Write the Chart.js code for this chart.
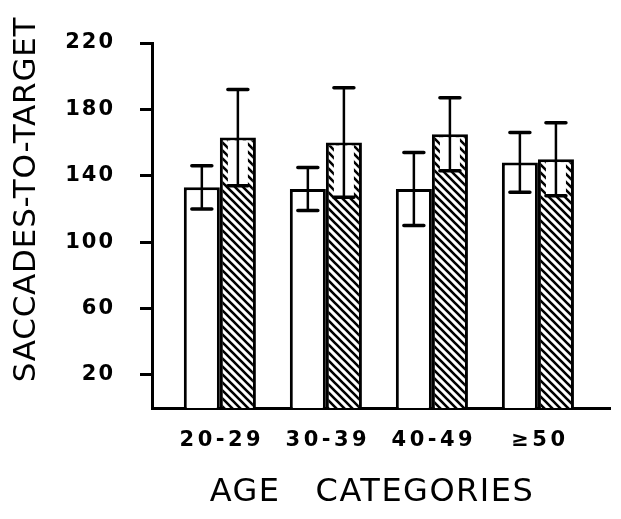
<!DOCTYPE html>
<html><head><meta charset="utf-8">
<script src="https://cdn.jsdelivr.net/npm/chart.js@4"></script>
<style>html,body{margin:0;padding:0;background:#fff}</style>
</head><body>
<canvas id="c" width="621" height="519"></canvas>
<script>
const categories = ['20-29', '30-39', '40-49', '≥50'];
const openMeans = [133, 132, 132, 148];
const openErrors = [13, 13, 22, 18];
const hatchedMeans = [163, 160, 165, 150];
const hatchedErrors = [29, 33, 22, 22];
const yTicks = [20, 60, 100, 140, 180, 220];

const canvas = document.getElementById('c');
const ctx = canvas.getContext('2d');

function makeHatch() {
  const s = 8;
  const t = document.createElement('canvas');
  t.width = s; t.height = s;
  const g = t.getContext('2d');
  g.fillStyle = '#fff'; g.fillRect(0, 0, s, s);
  g.strokeStyle = '#000'; g.lineWidth = 2.6;
  g.beginPath();
  g.moveTo(-2, -2); g.lineTo(s + 2, s + 2);
  g.moveTo(-2, s - 2); g.lineTo(2, s + 2);
  g.moveTo(s - 2, -2); g.lineTo(s + 2, 2);
  g.stroke();
  return ctx.createPattern(t, 'repeat');
}
const hatch = makeHatch();

function wrap(chart, scale, fn, spacing, dx, dy) {
  const key = '_w_' + fn;
  if (!scale || scale[key]) return;
  const orig = scale[fn].bind(scale);
  scale[fn] = function (...args) {
    const c = chart.ctx; const prev = c.letterSpacing;
    c.save();
    c.letterSpacing = spacing;
    c.translate(dx, dy);
    orig(...args);
    c.restore();
    c.letterSpacing = prev;
  };
  scale[key] = true;
}

const errPlugin = {
  id: 'errbars',
  beforeDraw(chart) {
    chart.ctx.letterSpacing = '2px';
    wrap(chart, chart.scales.y, 'drawTitle', '0.8px', 0, -26);
    wrap(chart, chart.scales.x, 'drawTitle', '1.5px', -9, 2);
    wrap(chart, chart.scales.x, 'drawLabels', '3.5px', 2, 0);
    wrap(chart, chart.scales.y, 'drawLabels', '2px', 0, 0);
  },
  afterDatasetsDraw(chart) {
    const c = chart.ctx, y = chart.scales.y;
    chart.data.datasets.forEach((ds, di) => {
      const meta = chart.getDatasetMeta(di);
      meta.data.forEach((bar, i) => {
        const v = ds.data[i].y, e = ds.err[i];
        const yt = y.getPixelForValue(v + e), yb = y.getPixelForValue(v - e);
        const x = bar.x;
        c.save();
        if (ds.hatched) {
          c.fillStyle = '#fff';
          c.fillRect(x - 10, bar.y + 3, 20, yb - bar.y - 3);
        }
        c.strokeStyle = '#000';
        c.lineWidth = 2.5;
        c.beginPath(); c.moveTo(x, yt); c.lineTo(x, yb); c.stroke();
        c.lineWidth = 3.5; c.lineCap = 'round';
        c.beginPath();
        c.moveTo(x - 10, yt); c.lineTo(x + 10, yt);
        c.moveTo(x - 10, yb); c.lineTo(x + 10, yb);
        c.stroke();
        c.restore();
      });
    });
  }
};

const tickFont = { family: 'DejaVu Sans', size: 21, weight: 'bold' };

new Chart(ctx, {
  type: 'bar',
  data: {
    datasets: [
      {
        data: categories.map((c, i) => ({ x: i + 1, y: openMeans[i] })),
        err: openErrors,
        backgroundColor: '#fff', borderColor: '#000', borderWidth: 3,
        borderSkipped: 'start', categoryPercentage: 0.68, barPercentage: 1
      },
      {
        data: categories.map((c, i) => ({ x: i + 1, y: hatchedMeans[i] })),
        err: hatchedErrors, hatched: true,
        backgroundColor: hatch, borderColor: '#000', borderWidth: 3,
        borderSkipped: 'start', categoryPercentage: 0.68, barPercentage: 1
      }
    ]
  },
  options: {
    responsive: false, animation: false, devicePixelRatio: 1,
    layout: { padding: { left: 0, top: 43, right: 11, bottom: 0 } },
    plugins: { legend: { display: false }, tooltip: { enabled: false } },
    scales: {
      x: {
        type: 'linear', min: 0.36, max: 4.68, offset: false,
        afterBuildTicks: s => { s.ticks = categories.map((c, i) => ({ value: i + 1 })); },
        afterFit: s => { s.height = 111; },
        ticks: { callback: v => categories[v - 1], font: tickFont, color: '#000', padding: 20, autoSkip: false, maxRotation: 0 },
        grid: { display: false, drawTicks: false, offset: false },
        border: { color: '#000', width: 3 },
        title: { display: true, text: 'AGE   CATEGORIES', color: '#000',
          font: { family: 'DejaVu Sans', size: 32 }, padding: { top: 0, bottom: 9 } }
      },
      y: {
        min: 0, max: 220,
        afterBuildTicks: s => { s.ticks = yTicks.map(v => ({ value: v })); },
        afterFit: s => { s.width = 152; },
        ticks: { font: tickFont, color: '#000', padding: 25 },
        grid: { drawOnChartArea: false, tickLength: 12, tickWidth: 3, tickColor: '#000' },
        border: { color: '#000', width: 3 },
        title: { display: true, text: 'SACCADES-TO-TARGET', color: '#000',
          font: { family: 'DejaVu Sans', size: 31 }, padding: { top: 8, bottom: 0 } }
      }
    }
  },
  plugins: [errPlugin]
});
</script>
</body></html>
